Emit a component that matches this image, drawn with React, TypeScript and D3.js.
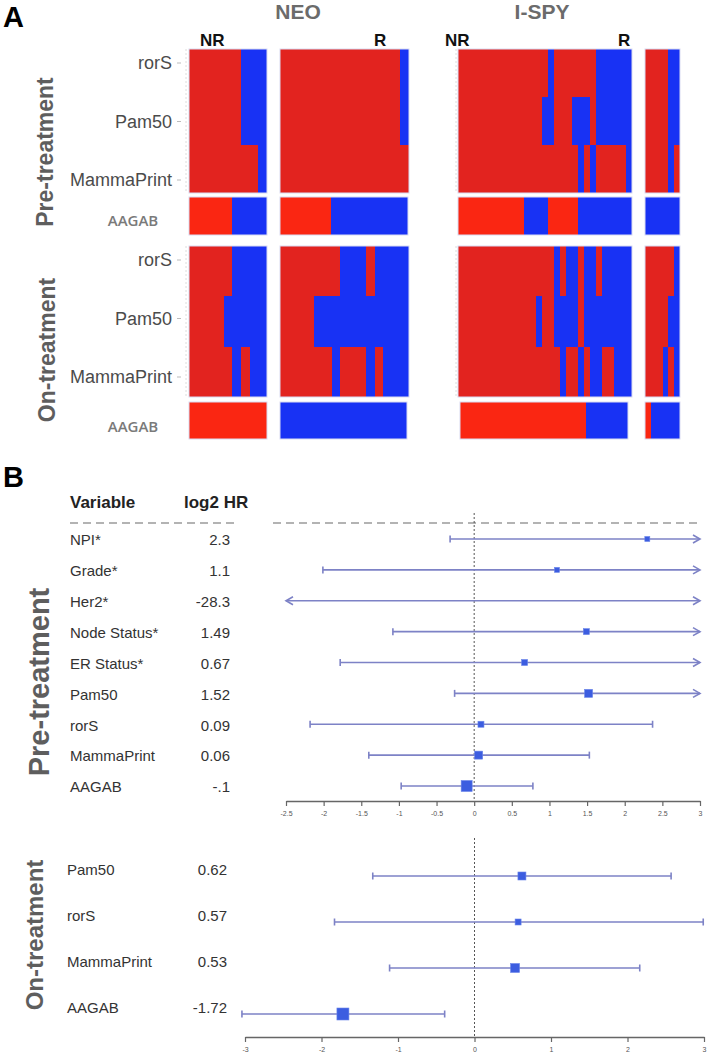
import React, { useEffect, useRef } from 'react';
import * as d3 from 'd3';

// ---- Panel A: heatmap rows, run lengths of patients alternating red / blue (first run is red)
const heatRows = ['rorS', 'Pam50', 'MammaPrint'];
const panelNames = ['NEO NR', 'NEO R', 'I-SPY NR', 'I-SPY R'];

const neoNrPre = [[6, 3], [6, 3], [8, 1]];
const neoRPre = [[14, 1], [14, 1], [15]];
const ispyNrPre = [[15, 1, 7, 6], [14, 2, 3, 3, 1, 6], [20, 1, 1, 1, 5, 1]];
const ispyRPre = [[4, 2], [4, 2], [4, 1, 1]];
const aagabPre = [[5, 4], [6, 9], [11, 4, 5, 9], [0, 6]];

const neoNrOn = [[5, 4], [4, 5], [5, 1, 1, 2]];
const neoROn = [[7, 3, 1, 4], [4, 11], [6, 1, 3, 1, 1, 3]];
const ispyNrOn = [[16, 1, 1, 2, 1, 2, 1, 5], [13, 1, 2, 4, 1, 8], [17, 1, 2, 1, 1, 2, 2, 3]];
const ispyROn = [[5, 1], [4, 2], [3, 1, 1, 1]];
const aagabOn = [[9], [0, 15], [21, 7], [1, 5]];

// ---- Panel B: forest plot
const preVars = ['NPI*', 'Grade*', 'Her2*', 'Node Status*', 'ER Status*', 'Pam50', 'rorS', 'MammaPrint', 'AAGAB'];
const preHRText = ['2.3', '1.1', '-28.3', '1.49', '0.67', '1.52', '0.09', '0.06', '-.1'];
const preEst = [2.3, 1.1, -28.3, 1.49, 0.67, 1.52, 0.09, 0.06, -0.1];
const preLow = [-0.32, -2.01, -45, -1.08, -1.78, -0.26, -2.18, -1.4, -0.97];
const preHigh = [4.9, 4.2, 3.6, 4.1, 3.1, 3.3, 2.37, 1.53, 0.78];
const preBox = [5, 5, 0, 6, 6, 8, 6, 8, 11];
const preTicks = [-2.5, -2, -1.5, -1, -0.5, 0, 0.5, 1, 1.5, 2, 2.5, 3];

const onVars = ['Pam50', 'rorS', 'MammaPrint', 'AAGAB'];
const onHRText = ['0.62', '0.57', '0.53', '-1.72'];
const onEst = [0.62, 0.57, 0.53, -1.72];
const onLow = [-1.33, -1.83, -1.11, -3.04];
const onHigh = [2.57, 2.99, 2.16, -0.39];
const onBox = [8, 6, 9, 12];
const onTicks = [-3, -2, -1, 0, 1, 2, 3];

const RED = '#e2231f';
const AAGAB_RED = '#fa2612';
const BLUE = '#1832f4';
const FONT = '"Liberation Sans", Arial, sans-serif';

const App = () => {
  const svgRef = useRef(null);

  useEffect(() => {
    const svg = d3.select(svgRef.current);
    svg.selectAll('*').remove();

    const W = 709;
    const H = 1053;
    svg.attr('width', W).attr('height', H).style('font-family', FONT);
    svg.append('rect').attr('width', W).attr('height', H).attr('fill', '#fff');

    // ================= Panel A =================
    const panelX = [[189, 267], [280, 409], [458, 632], [645, 680]];
    const aagabPreX = [[189, 267], [280, 408], [458, 632], [645, 680]];
    const aagabOnX = [[189, 267], [280, 407], [460, 628], [645, 680]];

    const drawRuns = (g, runs, x0, x1, y0, y1, red) => {
      const n = d3.sum(runs);
      const x = d3.scaleBand().domain(d3.range(n)).range([x0, x1]);
      let start = 0;
      runs.forEach((len, i) => {
        if (len > 0) {
          g.append('rect')
            .attr('x', x(start))
            .attr('y', y0)
            .attr('width', len * x.bandwidth())
            .attr('height', y1 - y0)
            .attr('fill', i % 2 === 0 ? red : BLUE)
            .attr('shape-rendering', 'crispEdges');
        }
        start += len;
      });
    };

    const drawHeat = (blocks, top, bottom) => {
      const y = d3.scaleBand().domain(heatRows).range([top, bottom]);
      blocks.forEach((rows, p) => {
        const [x0, x1] = panelX[p];
        const g = svg.append('g').attr('class', panelNames[p]);
        rows.forEach((runs, r) => {
          drawRuns(g, runs, x0, x1, y(heatRows[r]), y(heatRows[r]) + y.bandwidth(), RED);
        });
        g.append('rect')
          .attr('x', x0).attr('y', top)
          .attr('width', x1 - x0).attr('height', bottom - top)
          .attr('fill', 'none').attr('stroke', '#d9dcf2').attr('stroke-width', 1);
      });
      // faint dotted guides left of the NR panels
      [panelX[0][0] - 3, panelX[2][0] - 2].forEach(gx => {
        svg.append('line')
          .attr('x1', gx).attr('x2', gx).attr('y1', top).attr('y2', bottom)
          .attr('stroke', '#dcdcdc').attr('stroke-dasharray', '2,2');
      });
      // row labels
      const ly = d3.scalePoint().domain(heatRows).range([top + 14, top + 131]);
      heatRows.forEach(name => {
        svg.append('text')
          .attr('x', 172).attr('y', ly(name))
          .attr('dy', '0.36em')
          .attr('text-anchor', 'end')
          .attr('font-size', 18)
          .attr('fill', '#4b4b4b')
          .text(name);
        svg.append('line')
          .attr('x1', 177).attr('x2', 181).attr('y1', ly(name)).attr('y2', ly(name))
          .attr('stroke', '#bbb');
      });
    };

    const drawAagab = (blocks, xr, top, bottom, labelY) => {
      blocks.forEach((runs, p) => {
        const [x0, x1] = xr[p];
        const g = svg.append('g');
        drawRuns(g, runs, x0, x1, top, bottom, AAGAB_RED);
        g.append('rect')
          .attr('x', x0).attr('y', top)
          .attr('width', x1 - x0).attr('height', bottom - top)
          .attr('fill', 'none').attr('stroke', '#d9dcf2').attr('stroke-width', 1);
      });
      svg.append('text')
        .attr('x', 133).attr('y', labelY)
        .attr('text-anchor', 'middle')
        .attr('font-family', '"Open Sans", sans-serif')
        .attr('font-weight', 600)
        .attr('font-size', 15)
        .attr('fill', '#7a7a7a')
        .text('AAGAB');
    };

    drawHeat([neoNrPre, neoRPre, ispyNrPre, ispyRPre], 49, 193);
    drawAagab(aagabPre, aagabPreX, 197, 235, 226);
    drawHeat([neoNrOn, neoROn, ispyNrOn, ispyROn], 246, 397);
    drawAagab(aagabOn, aagabOnX, 402, 439, 432);

    // headers
    svg.append('text').attr('x', 3).attr('y', 27).attr('font-size', 29).attr('font-weight', 'bold').text('A');
    [['NEO', 298], ['I-SPY', 542]].forEach(([t, x]) => {
      svg.append('text').attr('x', x).attr('y', 19).attr('text-anchor', 'middle')
        .attr('font-size', 21).attr('font-weight', 'bold').attr('fill', '#6b6b6b').text(t);
    });
    [['NR', 200], ['R', 374], ['NR', 445], ['R', 618]].forEach(([t, x]) => {
      svg.append('text').attr('x', x).attr('y', 46)
        .attr('font-size', 17).attr('font-weight', 'bold').attr('fill', '#111').text(t);
    });

    const sideLabel = (text, x, y, size) => {
      svg.append('text')
        .attr('transform', `translate(${x},${y}) rotate(-90)`)
        .attr('text-anchor', 'middle')
        .attr('font-size', size)
        .attr('font-weight', 'bold')
        .attr('fill', '#5e5e5e')
        .text(text);
    };
    sideLabel('Pre-treatment', 53, 152, 23);
    sideLabel('On-treatment', 55, 350, 23);

    // ================= Panel B =================
    svg.append('text').attr('x', 3).attr('y', 487).attr('font-size', 29).attr('font-weight', 'bold').text('B');
    svg.append('text').attr('x', 70).attr('y', 508).attr('font-size', 17).attr('font-weight', 'bold').attr('fill', '#222').text('Variable');
    svg.append('text').attr('x', 184).attr('y', 508).attr('font-size', 17).attr('font-weight', 'bold').attr('fill', '#222').text('log2 HR');

    [[70, 237], [273, 700]].forEach(([a, b]) => {
      svg.append('line')
        .attr('x1', a).attr('x2', b).attr('y1', 523).attr('y2', 523)
        .attr('stroke', '#b3b3b3').attr('stroke-width', 2).attr('stroke-dasharray', '8,5');
    });

    sideLabel('Pre-treatment', 49, 682, 29);
    sideLabel('On-treatment', 43, 935, 24);

    const LINE = '#7d82c6';
    const BOX = '#3c5de0';

    const drawForest = (opts) => {
      const { vars, hrText, est, low, high, box, ticks, x, y, labelX, valueX, labelDy, zeroTop, axisY } = opts;
      const [dMin, dMax] = x.domain();

      // zero reference line
      svg.append('line')
        .attr('x1', x(0)).attr('x2', x(0)).attr('y1', zeroTop).attr('y2', axisY)
        .attr('stroke', '#555').attr('stroke-width', 1).attr('stroke-dasharray', '2,2');

      vars.forEach((v, i) => {
        const yy = y(v);
        svg.append('text').attr('x', labelX).attr('y', yy + labelDy).attr('dy', '0.35em')
          .attr('font-size', 15).attr('fill', '#333').text(v);
        svg.append('text').attr('x', valueX).attr('y', yy + labelDy).attr('dy', '0.35em')
          .attr('text-anchor', 'end').attr('font-size', 15).attr('fill', '#333').text(hrText[i]);

        const loOut = low[i] < dMin - 0.05;
        const hiOut = high[i] > dMax + 0.05;
        const lo = loOut ? dMin : low[i];
        const hi = hiOut ? dMax : high[i];
        svg.append('line')
          .attr('x1', x(lo)).attr('x2', x(hi)).attr('y1', yy).attr('y2', yy)
          .attr('stroke', LINE).attr('stroke-width', 1.6);

        const endMark = (val, out, dir) => {
          const px = x(val);
          if (out) {
            svg.append('path')
              .attr('d', `M${px - dir * 7},${yy - 4}L${px},${yy}L${px - dir * 7},${yy + 4}`)
              .attr('fill', 'none').attr('stroke', LINE).attr('stroke-width', 1.6);
          } else {
            svg.append('line')
              .attr('x1', px).attr('x2', px).attr('y1', yy - 3.5).attr('y2', yy + 3.5)
              .attr('stroke', LINE).attr('stroke-width', 1.6);
          }
        };
        endMark(lo, loOut, -1);
        endMark(hi, hiOut, 1);

        if (est[i] >= dMin && est[i] <= dMax && box[i] > 0) {
          svg.append('rect')
            .attr('x', x(est[i]) - box[i] / 2).attr('y', yy - box[i] / 2)
            .attr('width', box[i]).attr('height', box[i])
            .attr('fill', BOX).attr('stroke', '#6b86ea').attr('stroke-width', 0.6);
        }
      });

      const axis = d3.axisBottom(x)
        .tickValues(ticks)
        .tickSize(5)
        .tickSizeOuter(0)
        .tickFormat(d => `${d}`);
      const ag = svg.append('g').attr('transform', `translate(0,${axisY})`).call(axis);
      ag.select('.domain').attr('stroke', '#666').attr('stroke-width', 1.4);
      ag.selectAll('.tick line').attr('stroke', '#666').attr('stroke-width', 1.2);
      ag.selectAll('.tick text').attr('font-size', 7).attr('fill', '#555').attr('y', 10).attr('font-family', FONT);
    };

    drawForest({
      vars: preVars, hrText: preHRText, est: preEst, low: preLow, high: preHigh, box: preBox,
      ticks: preTicks,
      x: d3.scaleLinear().domain([-2.5, 3]).range([286, 700]),
      y: d3.scalePoint().domain(preVars).range([539, 786]),
      labelX: 70, valueX: 230, labelDy: 1, zeroTop: 513, axisY: 801,
    });

    drawForest({
      vars: onVars, hrText: onHRText, est: onEst, low: onLow, high: onHigh, box: onBox,
      ticks: onTicks,
      x: d3.scaleLinear().domain([-3, 3]).range([245, 704]),
      y: d3.scalePoint().domain(onVars).range([876, 1014]),
      labelX: 67, valueX: 227, labelDy: -6, zeroTop: 838, axisY: 1037,
    });
  }, []);

  return (
    <svg ref={svgRef} style={{ position: 'absolute', left: 0, top: 0, display: 'block' }}></svg>
  );
};

export default App;
